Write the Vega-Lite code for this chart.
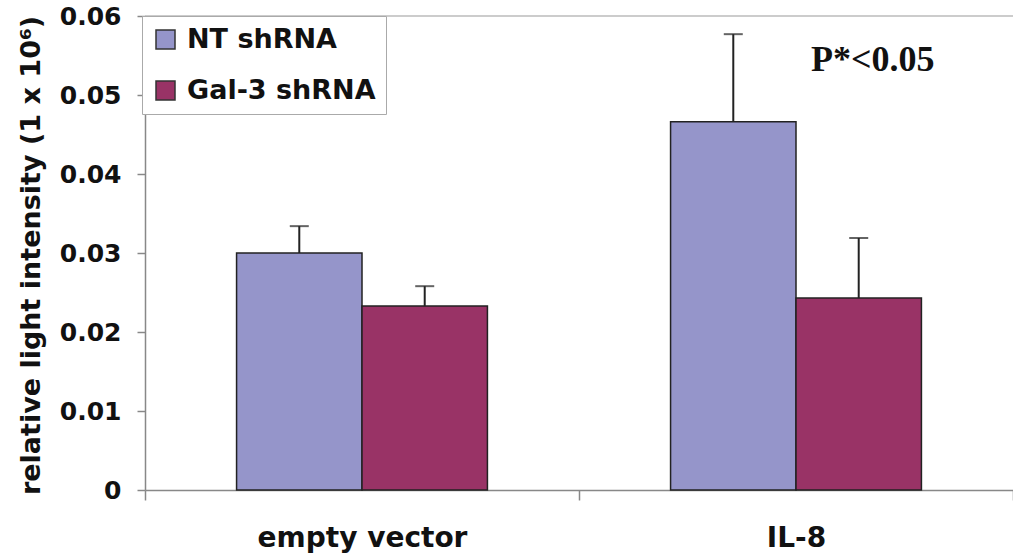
{
  "$schema": "https://vega.github.io/schema/vega-lite/v6.json",
  "width": 868,
  "height": 474,
  "autosize": {"type": "none"},
  "padding": {"left": 145, "top": 16, "right": 0, "bottom": 70},
  "background": "white",
  "config": {
    "view": {"stroke": "transparent", "strokeWidth": 0},
    "axis": {
      "domainColor": "#888888",
      "domainWidth": 1.5,
      "tickColor": "#888888",
      "tickWidth": 1.5,
      "grid": false,
      "labelFont": "DejaVu Sans",
      "labelFontWeight": "bold",
      "labelColor": "#111111",
      "titleFont": "DejaVu Sans",
      "titleFontWeight": "bold",
      "titleColor": "#111111"
    }
  },
  "layer": [
    {
      "data": {"values": [{"top": 0.06}]},
      "mark": {"type": "rule", "color": "#bbbbbb", "strokeWidth": 1.5},
      "encoding": {"y": {"field": "top", "type": "quantitative"}}
    },
    {
      "data": {"name": "bars", "values": [
        {"condition": "empty vector", "group": "NT shRNA", "value": 0.0300, "upper": 0.0334},
        {"condition": "empty vector", "group": "Gal-3 shRNA", "value": 0.0233, "upper": 0.0258},
        {"condition": "IL-8", "group": "NT shRNA", "value": 0.0466, "upper": 0.0577},
        {"condition": "IL-8", "group": "Gal-3 shRNA", "value": 0.0243, "upper": 0.0319}
      ]},
      "encoding": {
        "x": {
          "field": "condition", "type": "nominal", "sort": ["empty vector", "IL-8"], "title": null,
          "scale": {"paddingInner": 0, "paddingOuter": 0},
          "axis": {"labelAngle": 0, "tickBand": "extent", "tickSize": 10, "labelPadding": 24, "labelFontSize": 28, "labelLimit": 400}
        },
        "xOffset": {"field": "group", "type": "nominal", "sort": ["NT shRNA", "Gal-3 shRNA"], "scale": {"paddingInner": 0, "paddingOuter": 0.73}}
      },
      "layer": [
        {
          "mark": {"type": "bar", "stroke": "#222222", "strokeWidth": 1.5},
          "encoding": {
            "y": {
              "field": "value", "type": "quantitative",
              "scale": {"domain": [0, 0.06], "nice": false},
              "title": "relative light intensity (1 x 10⁶)",
              "axis": {
                "values": [0, 0.01, 0.02, 0.03, 0.04, 0.05, 0.06],
                "labelExpr": "datum.value == 0 ? '0' : format(datum.value, '.2f')",
                "tickSize": 8, "labelPadding": 16, "labelFontSize": 25,
                "titleFontSize": 27, "titleX": -114, "titleY": 239, "titleAngle": -90,
                "titleAlign": "center", "titleBaseline": "middle"
              }
            },
            "color": {
              "field": "group", "type": "nominal", "sort": ["NT shRNA", "Gal-3 shRNA"],
              "scale": {"range": ["#9595CA", "#993366"]},
              "legend": {
                "orient": "none", "legendX": -3, "legendY": 0, "title": null,
                "symbolType": "square", "symbolSize": 361, "symbolStrokeColor": "#333333", "symbolStrokeWidth": 1.5,
                "labelFont": "DejaVu Sans", "labelFontWeight": "bold", "labelFontSize": 27, "labelColor": "#111111",
                "labelOffset": 8, "rowPadding": 23, "padding": 10, "labelLimit": 300,
                "strokeColor": "#aaaaaa", "fillColor": "white"
              }
            }
          }
        },
        {
          "mark": {"type": "rule", "color": "#222222", "strokeWidth": 2},
          "encoding": {
            "y": {"field": "value", "type": "quantitative"},
            "y2": {"field": "upper"}
          }
        },
        {
          "mark": {"type": "tick", "color": "#222222", "thickness": 2, "size": 19, "orient": "horizontal"},
          "encoding": {
            "y": {"field": "upper", "type": "quantitative"}
          }
        }
      ]
    },
    {
      "data": {"values": [{"condition": "IL-8", "group": "Gal-3 shRNA", "yv": 0.0544, "label": "P*<0.05"}]},
      "mark": {"type": "text", "font": "Liberation Serif", "fontWeight": "bold", "fontSize": 36, "color": "#111111", "dx": 14, "baseline": "middle"},
      "encoding": {
        "x": {"field": "condition", "type": "nominal", "sort": ["empty vector", "IL-8"]},
        "xOffset": {"field": "group", "type": "nominal", "sort": ["NT shRNA", "Gal-3 shRNA"]},
        "y": {"field": "yv", "type": "quantitative"},
        "text": {"field": "label"}
      }
    }
  ]
}
